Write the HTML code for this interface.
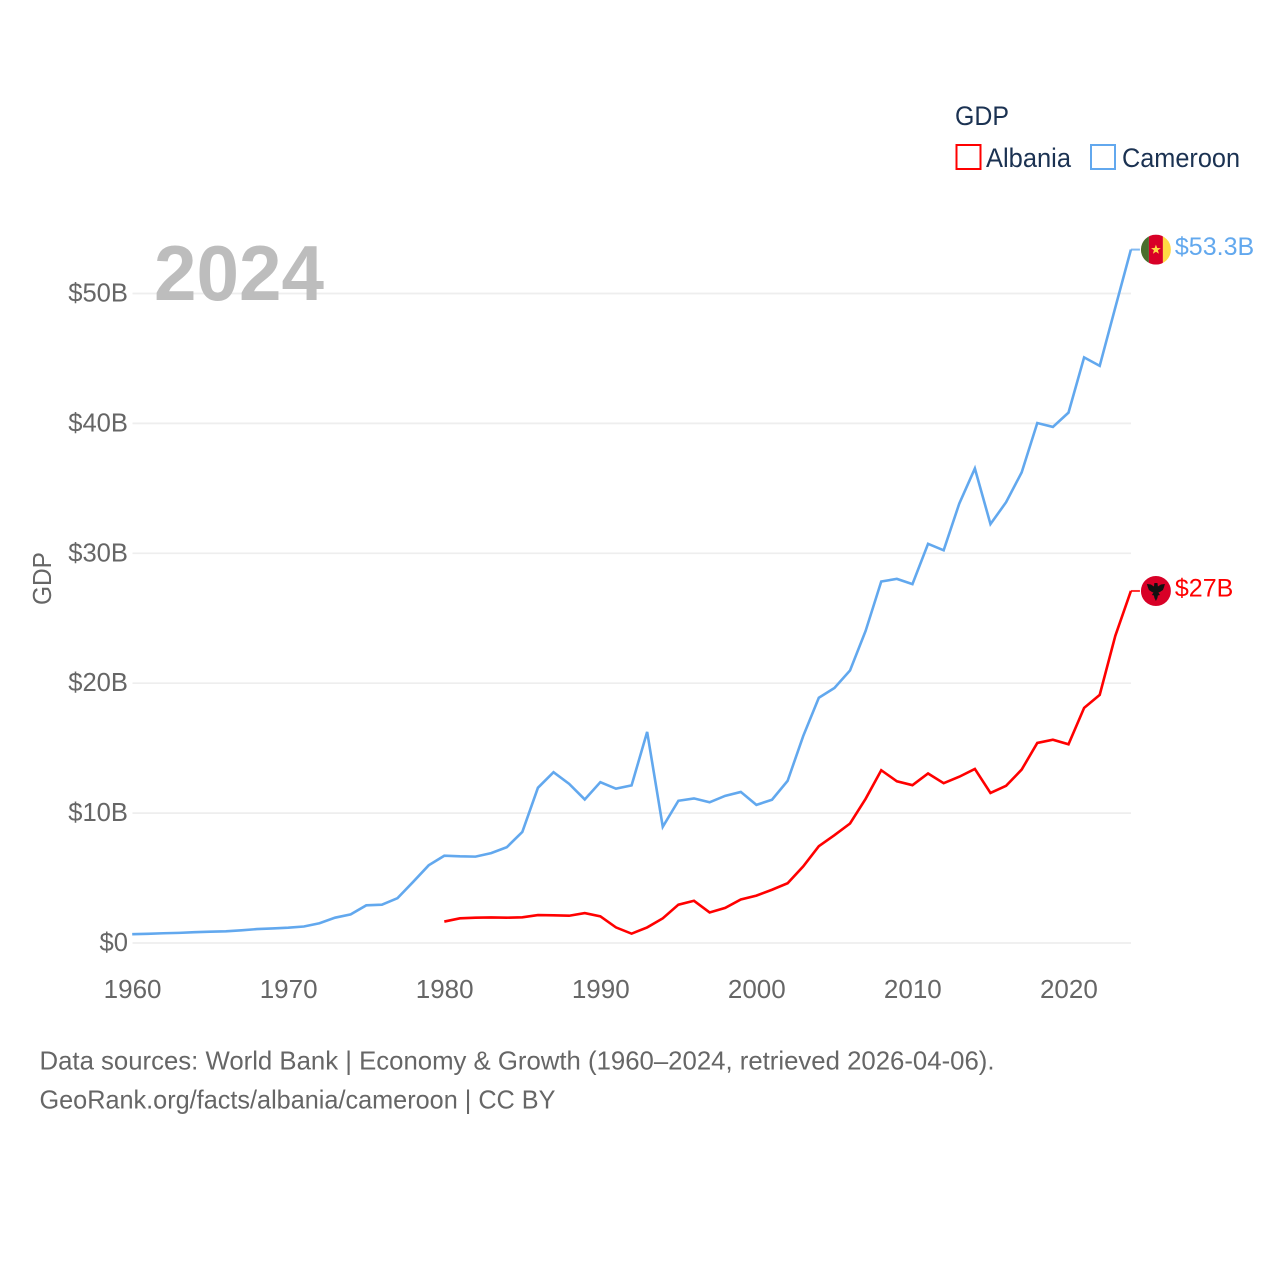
<!DOCTYPE html>
<html lang="en">
<head>
<meta charset="utf-8">
<title>GDP: Albania and Cameroon</title>
<style>
html,body{margin:0;padding:0;background:#fff}
svg{display:block}
text{font-family:"Liberation Sans",sans-serif}
</style>
</head>
<body>
<svg id="chart" xmlns="http://www.w3.org/2000/svg" width="1280" height="1280" viewBox="0 0 1280 1280">
  <defs>
    <clipPath id="flag-clip-cameroon"><circle cx="0" cy="0" r="15"/></clipPath>
    <clipPath id="flag-clip-albania"><circle cx="0" cy="0" r="15"/></clipPath>
  </defs>
  <rect x="0" y="0" width="1280" height="1280" fill="#fff"/>
  <g id="grid"></g>
  <text x="154" y="300" font-size="78" font-weight="700" fill="#bdbdbd" textLength="170" lengthAdjust="spacingAndGlyphs">2024</text>
  <g id="y-ticks"></g>
  <g id="x-ticks"></g>
  <text transform="translate(51 605) rotate(-90)" font-size="26" fill="#666" textLength="53" lengthAdjust="spacingAndGlyphs">GDP</text>
  <g id="series"></g>

  <g>
    <text x="955" y="125" font-size="27" fill="#1b3252" textLength="54" lengthAdjust="spacingAndGlyphs">GDP</text>
    <g>
      <rect x="956.5" y="145" width="24" height="24" fill="#fff" stroke="#ff0000" stroke-width="2"/>
      <text x="986" y="167" font-size="27" fill="#1b3252" textLength="85" lengthAdjust="spacingAndGlyphs">Albania</text>
    </g>
    <g>
      <rect x="1091" y="145" width="24" height="24" fill="#fff" stroke="#62a8ee" stroke-width="2"/>
      <text x="1122" y="167" font-size="27" fill="#1b3252" textLength="118" lengthAdjust="spacingAndGlyphs">Cameroon</text>
    </g>
  </g>

  <text x="39.5" y="1069.5" font-size="26" fill="#666" textLength="955" lengthAdjust="spacingAndGlyphs">Data sources: World Bank | Economy &amp; Growth (1960–2024, retrieved 2026-04-06).</text>
  <text x="39.5" y="1108.5" font-size="26" fill="#666" textLength="516" lengthAdjust="spacingAndGlyphs">GeoRank.org/facts/albania/cameroon | CC BY</text>
</svg>

<script>
const yTickValues = [0, 10, 20, 30, 40, 50];
const yTickLabels = ["$0", "$10B", "$20B", "$30B", "$40B", "$50B"];
const xTickValues = [1960, 1970, 1980, 1990, 2000, 2010, 2020];
const xTickLabels = ["1960", "1970", "1980", "1990", "2000", "2010", "2020"];

const cameroonStartYear = 1960;
const cameroonValues = [
  0.68, 0.71, 0.75, 0.78, 0.83, 0.87, 0.90, 0.98, 1.07, 1.12,
  1.18, 1.27, 1.52, 1.95, 2.20, 2.90, 2.95, 3.45, 4.70, 5.98,
  6.72, 6.67, 6.65, 6.92, 7.37, 8.55, 11.95, 13.15, 12.25, 11.05,
  12.38, 11.88, 12.13, 16.25, 8.95, 10.95, 11.13, 10.83, 11.33, 11.63,
  10.63, 11.03, 12.48, 15.93, 18.88, 19.63, 20.98, 24.03, 27.83, 28.03,
  27.63, 30.73, 30.23, 33.83, 36.53, 32.25, 33.93, 36.23, 40.03, 39.73,
  40.83, 45.08, 44.43, 48.93, 53.38
];
const albaniaStartYear = 1980;
const albaniaValues = [
  1.65, 1.90, 1.95, 1.97, 1.95, 1.98, 2.15, 2.13, 2.10, 2.30,
  2.05, 1.20, 0.72, 1.20, 1.90, 2.95, 3.25, 2.35, 2.70, 3.35,
  3.65, 4.10, 4.60, 5.90, 7.45, 8.30, 9.20, 11.1, 13.3, 12.45,
  12.15, 13.05, 12.3, 12.8, 13.4, 11.55, 12.1, 13.35, 15.4, 15.65,
  15.3, 18.1, 19.1, 23.65, 27.1
];
const cameroonEndLabel = "$53.3B";
const albaniaEndLabel = "$27B";

const SVG_NS = "http://www.w3.org/2000/svg";
const plotLeft = 132.5;
const plotRight = 1131;
function xScale(year) { return 132.2 + (year - 1960) * 15.605; }
function yScale(value) { return 943 - value * 12.99; }

function make(tag, attrs, parent) {
  const el = document.createElementNS(SVG_NS, tag);
  for (const k in attrs) el.setAttribute(k, attrs[k]);
  parent.appendChild(el);
  return el;
}

const gridLayer = document.getElementById("grid");
const yTickLayer = document.getElementById("y-ticks");
const xTickLayer = document.getElementById("x-ticks");
const seriesLayer = document.getElementById("series");

yTickValues.forEach(function (v, i) {
  const line = make("line", { x1: plotLeft, x2: plotRight, y1: yScale(v), y2: yScale(v), stroke: "#eeeeee", "stroke-width": 1.7 }, gridLayer);
  
  
  const t = make("text", { x: 128, y: yScale(v) + 8, "text-anchor": "end", "font-size": 25.6, fill: "#666" }, yTickLayer);
  t.textContent = yTickLabels[i];
  
  
});

xTickValues.forEach(function (v, i) {
  const t = make("text", { x: xScale(v) + 0.4, y: 998, "text-anchor": "middle", "font-size": 26, fill: "#666" }, xTickLayer);
  t.textContent = xTickLabels[i];
  
  
});

function linePoints(startYear, values) {
  return values.map(function (v, i) {
    return xScale(startYear + i).toFixed(2) + "," + yScale(v).toFixed(2);
  }).join(" ");
}

function endY(values) { return yScale(values[values.length - 1]); }
function endX(startYear, values) { return xScale(startYear + values.length - 1); }

// Cameroon line
const cameroonLine = make("polyline", { points: linePoints(cameroonStartYear, cameroonValues), fill: "none", stroke: "#62a8ee", "stroke-width": 2.6, "stroke-linejoin": "miter" }, seriesLayer);



// Albania line
const albaniaLine = make("polyline", { points: linePoints(albaniaStartYear, albaniaValues), fill: "none", stroke: "#ff0000", "stroke-width": 2.6, "stroke-linejoin": "miter" }, seriesLayer);



// Cameroon end marker
const camY = endY(cameroonValues);
const camX = endX(cameroonStartYear, cameroonValues);
const camStub = make("line", { x1: camX, x2: camX + 9, y1: camY, y2: camY, stroke: "#62a8ee", "stroke-width": 2, opacity: 0.8 }, seriesLayer);


const camFlag = make("g", { transform: "translate(" + (camX + 25) + " " + camY + ")", "clip-path": "url(#flag-clip-cameroon)" }, seriesLayer);


make("rect", { x: -15, y: -15, width: 8, height: 30, fill: "#496e2d" }, camFlag);
make("rect", { x: -7, y: -15, width: 14, height: 30, fill: "#d80027" }, camFlag);
make("rect", { x: 7, y: -15, width: 8, height: 30, fill: "#ffda44" }, camFlag);
make("polygon", { points: "0,-5 1.3,-1.6 4.9,-1.5 2,0.7 3,4.2 0,2.2 -3,4.2 -2,0.7 -4.9,-1.5 -1.3,-1.6", fill: "#ffda44" }, camFlag);
const camLabel = make("text", { x: camX + 44, y: camY + 5.5, "font-size": 25, fill: "#62a8ee" }, seriesLayer);
camLabel.textContent = cameroonEndLabel;



// Albania end marker
const albY = endY(albaniaValues);
const albX = endX(albaniaStartYear, albaniaValues);
const albStub = make("line", { x1: albX, x2: albX + 9, y1: albY, y2: albY, stroke: "#ff0000", "stroke-width": 2, opacity: 0.8 }, seriesLayer);


const albFlag = make("g", { transform: "translate(" + (albX + 25) + " " + albY + ")", "clip-path": "url(#flag-clip-albania)" }, seriesLayer);


make("rect", { x: -15, y: -15, width: 30, height: 30, fill: "#d80027" }, albFlag);
make("polygon", { points: "-1.5,-8 1.5,-8 2,-4.5 5,-6.5 9,-7 8,-3.5 7,-1 4,1 2.5,1.5 4,4 2,4.5 1.5,7 0,10 -1.5,7 -2,4.5 -4,4 -2.5,1.5 -4,1 -7,-1 -8,-3.5 -9,-7 -5,-6.5 -2,-4.5", fill: "#111" }, albFlag);
const albLabel = make("text", { x: albX + 44, y: albY + 5.5, "font-size": 25, fill: "#ff0000" }, seriesLayer);
albLabel.textContent = albaniaEndLabel;


</script>
</body>
</html>
